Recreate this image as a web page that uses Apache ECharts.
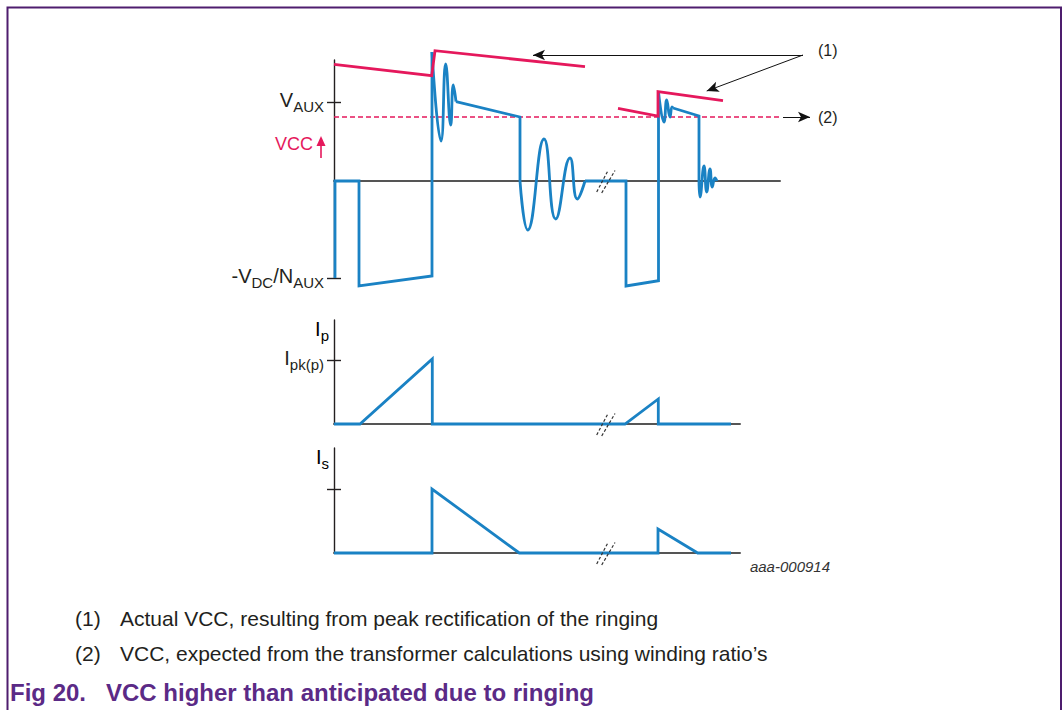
<!DOCTYPE html>
<html>
<head>
<meta charset="utf-8">
<script src="https://cdn.jsdelivr.net/npm/echarts@6/dist/echarts.min.js"></script>
<style>
  html, body { margin: 0; padding: 0; background: #ffffff; }
  #chart { width: 1063px; height: 710px; }
</style>
</head>
<body>
<div id="chart"></div>
<script>
// Time runs in arbitrary divisions; amplitudes are arbitrary units.

// Auxiliary winding voltage: straight portions
const auxEdgeA = [[0.1, -9.7], [0.1, 0], [2.5, 0], [2.5, -10.5], [9.8, -9.5], [9.8, 12.9]];
const auxEdgeB = [[12.2, 7.93], [18.6, 6.4], [18.6, 0]];
const auxEdgeC = [[25.1, 0], [29.2, 0], [29.2, -10.5], [32.45, -9.97], [32.45, 8.9]];
const auxEdgeD = [[33.9, 7.3], [36.5, 6.5], [36.5, 0]];
// Auxiliary winding voltage: ringing after each edge (successive peaks)
const auxRingA = [[9.8, 12.9], [10.7, 4.0], [11.17, 11.7], [11.67, 5.6], [11.93, 9.6], [12.2, 7.93]];
const auxRingB = [[18.6, 0], [19.37, -4.9], [21.0, 4.2], [22.17, -3.8], [23.6, 2.3], [24.33, -1.8], [25.1, 0]];
const auxRingC = [[32.45, 8.9], [33.0, 5.9], [33.27, 8.1], [33.6, 6.4], [33.8, 7.4], [33.9, 7.3]];
const auxRingD = [[36.5, 0], [36.6, -1.6], [37.0, 1.5], [37.27, -1.1], [37.6, 1.2], [37.83, -0.6], [38.1, 0.3], [38.3, 0]];

// Actual VCC (peak rectified) and expected VCC level
const vccActualA = [[0, 11.67], [9.77, 10.53], [10.1, 13.03], [25.1, 11.43]];
const vccActualB = [[28.4, 7.27], [32.4, 6.5], [32.4, 8.93], [38.9, 8.03]];
const vccExpected = [[0, 6.4], [44.9, 6.4]];

// Primary and secondary currents
const primaryCurrent = [[0, 0], [2.6, 0], [9.83, 6.5], [9.83, 0], [29.1, 0], [32.43, 2.5], [32.43, 0], [39.7, 0]];
const secondaryCurrent = [[0, 0], [9.8, 0], [9.8, 6.4], [18.53, 0], [32.4, 0], [32.4, 2.4], [36.37, 0], [39.7, 0]];

// Axis reference levels
const vAuxLevel = 7.9;
const vNegLevel = -9.7;
const ipkLevel = 6.4;
const iskLevel = 6.4;

// Time-break marks (pairs of slashes) per panel
const breakMarks = [[[26.27, -1.1], [27.43, 1.1]], [[26.77, -1.2], [28.1, 1.05]]];

// Annotation arrows: label (1) points to both VCC traces, label (2) to the expected level
const arrowOne = [[[46.9, 12.6], [19.9, 12.6]], [[46.9, 12.6], [37.27, 9.0]]];
const arrowTwo = [[[44.9, 6.4], [47.6, 6.4]]];

const FONT = '"Liberation Sans", Arial, Helvetica, sans-serif';
const BLUE = '#1a82c4';
const PINK = '#e5185c';
const INK = '#231f20';

const richLabel = {
  m: { fontSize: 20, fontFamily: FONT, color: INK, verticalAlign: 'bottom', padding: [0, 0, 4, 0] },
  s: { fontSize: 15, fontFamily: FONT, color: INK, verticalAlign: 'bottom' }
};

function trace(data, color, xi, yi, smooth) {
  return {
    type: 'line', xAxisIndex: xi, yAxisIndex: yi, data: data,
    smooth: smooth ? 0.5 : false,
    symbol: 'none', showSymbol: false, clip: false, silent: true, animation: false,
    lineStyle: { color: color, width: 2.8, cap: 'butt', join: 'miter' }
  };
}

function breakSeries(xi, yi) {
  return breakMarks.map(function (seg) {
    return {
      type: 'line', xAxisIndex: xi, yAxisIndex: yi, data: seg,
      symbol: 'none', clip: false, silent: true, animation: false, z: 5,
      lineStyle: { color: '#333', width: 1.2, type: [3, 2] }
    };
  });
}

function valueAxisX(gi, max) {
  return {
    type: 'value', gridIndex: gi, min: 0, max: max,
    axisLine: { show: true, onZero: true, lineStyle: { color: '#555', width: 2 } },
    axisTick: { show: false }, axisLabel: { show: false }, splitLine: { show: false }
  };
}

function valueAxisY(gi, min, max, ticks, labeler, inside) {
  return {
    type: 'value', gridIndex: gi, min: min, max: max, position: 'left',
    axisLine: { show: !inside, onZero: false, lineStyle: { color: INK, width: 1.4 } },
    axisTick: { show: ticks.length > 0, inside: !!inside, length: 7, customValues: ticks, lineStyle: { color: INK, width: 1.4 } },
    axisLabel: inside || !labeler ? { show: false } : {
      show: true, customValues: ticks, margin: 10, formatter: labeler, rich: richLabel
    },
    splitLine: { show: false }
  };
}

const chart = echarts.init(document.getElementById('chart'), null, { renderer: 'svg' });

const series = [
  // expected VCC level (dashed)
  {
    type: 'line', xAxisIndex: 0, yAxisIndex: 0, data: vccExpected, symbol: 'none', clip: false,
    silent: true, animation: false,
    lineStyle: { color: PINK, width: 1.3, type: [5, 3] }
  },
  trace(auxEdgeA, BLUE, 0, 0, false),
  trace(auxRingA, BLUE, 0, 0, true),
  trace(auxEdgeB, BLUE, 0, 0, false),
  trace(auxRingB, BLUE, 0, 0, true),
  trace(auxEdgeC, BLUE, 0, 0, false),
  trace(auxRingC, BLUE, 0, 0, true),
  trace(auxEdgeD, BLUE, 0, 0, false),
  trace(auxRingD, BLUE, 0, 0, true),
  trace(vccActualA, PINK, 0, 0, false),
  trace(vccActualB, PINK, 0, 0, false),
  trace(primaryCurrent, BLUE, 1, 2, false),
  trace(secondaryCurrent, BLUE, 2, 4, false),
  // annotation arrows
  {
    type: 'line', xAxisIndex: 3, yAxisIndex: 6, data: [], silent: true, animation: false,
    markLine: {
      silent: true, animation: false, symbol: ['none', 'arrow'], symbolSize: [8, 12],
      label: { show: false },
      lineStyle: { color: '#111', width: 1, type: 'solid' },
      emphasis: { disabled: true },
      data: arrowOne.concat(arrowTwo).map(function (p) { return [{ coord: p[0] }, { coord: p[1] }]; })
    }
  }
].concat(breakSeries(0, 0), breakSeries(1, 2), breakSeries(2, 4));

const option = {
  backgroundColor: '#ffffff',
  animation: false,
  grid: [
    { left: 334, top: 60, width: 446, height: 218 },
    { left: 334, top: 320, width: 406, height: 104 },
    { left: 334, top: 448, width: 406, height: 105 },
    { left: 334, top: 40, width: 520, height: 260 }
  ],
  xAxis: [
    valueAxisX(0, 44.6),
    valueAxisX(1, 40.6),
    valueAxisX(2, 40.6),
    { type: 'value', gridIndex: 3, min: 0, max: 52, show: false }
  ],
  yAxis: [
    valueAxisY(0, vNegLevel, 12.1, [vNegLevel, vAuxLevel], function (v) {
      return v > 0 ? '{m|V}{s|AUX}' : '{m|-V}{s|DC}{m|/N}{s|AUX}';
    }),
    valueAxisY(0, vNegLevel, 12.1, [vNegLevel, vAuxLevel], null, true),
    valueAxisY(1, 0, 10.4, [ipkLevel], function () { return '{m|I}{s|pk(p)}'; }),
    valueAxisY(1, 0, 10.4, [ipkLevel], null, true),
    valueAxisY(2, 0, 10.5, [iskLevel], null),
    valueAxisY(2, 0, 10.5, [iskLevel], null, true),
    { type: 'value', gridIndex: 3, min: -11.9, max: 14.1, show: false }
  ],
  series: series,
  graphic: [
    { type: 'rect', silent: true, z: 0, shape: { x: 7.5, y: 7.5, width: 1053.5, height: 740 },
      style: { fill: 'none', stroke: '#4e1d6e', lineWidth: 2 } },
    // VCC label with upward arrow
    { type: 'text', silent: true, style: { x: 313, y: 144, text: 'VCC', fontSize: 18, fontFamily: FONT, fill: PINK, align: 'right', verticalAlign: 'middle' } },
    { type: 'line', silent: true, shape: { x1: 321, y1: 158, x2: 321, y2: 144 }, style: { stroke: PINK, lineWidth: 1.6 } },
    { type: 'polygon', silent: true, shape: { points: [[316.5, 146], [325.5, 146], [321, 136]] }, style: { fill: PINK } },
    // current axis names
    { type: 'text', silent: true, style: { x: 329, y: 331, text: '{m|I}{s|p}', rich: richLabel, align: 'right', verticalAlign: 'middle' } },
    { type: 'text', silent: true, style: { x: 329, y: 459, text: '{m|I}{s|s}', rich: richLabel, align: 'right', verticalAlign: 'middle' } },
    // annotation numbers
    { type: 'text', silent: true, style: { x: 818, y: 50, text: '(1)', fontSize: 16, fontFamily: FONT, fill: INK, verticalAlign: 'middle' } },
    { type: 'text', silent: true, style: { x: 818, y: 117, text: '(2)', fontSize: 16, fontFamily: FONT, fill: INK, verticalAlign: 'middle' } },
    { type: 'text', silent: true, style: { x: 830, y: 566, text: 'aaa-000914', fontSize: 15, fontStyle: 'italic', fontFamily: FONT, fill: '#333', align: 'right', verticalAlign: 'middle' } },
    // notes and caption
    { type: 'text', silent: true, style: { x: 75, y: 618, text: '(1)', fontSize: 21, fontFamily: FONT, fill: INK, verticalAlign: 'middle' } },
    { type: 'text', silent: true, style: { x: 120, y: 618, text: 'Actual VCC, resulting from peak rectification of the ringing', fontSize: 21, fontFamily: FONT, fill: INK, verticalAlign: 'middle' } },
    { type: 'text', silent: true, style: { x: 75, y: 653, text: '(2)', fontSize: 21, fontFamily: FONT, fill: INK, verticalAlign: 'middle' } },
    { type: 'text', silent: true, style: { x: 120, y: 653, text: 'VCC, expected from the transformer calculations using winding ratio\u2019s', fontSize: 21, fontFamily: FONT, fill: INK, verticalAlign: 'middle' } },
    { type: 'text', silent: true, style: { x: 10, y: 692, text: 'Fig 20.   VCC higher than anticipated due to ringing', fontSize: 24, fontWeight: 'bold', fontFamily: FONT, fill: '#5b2a86', verticalAlign: 'middle' } }
  ]
};

chart.setOption(option);
</script>
</body>
</html>
